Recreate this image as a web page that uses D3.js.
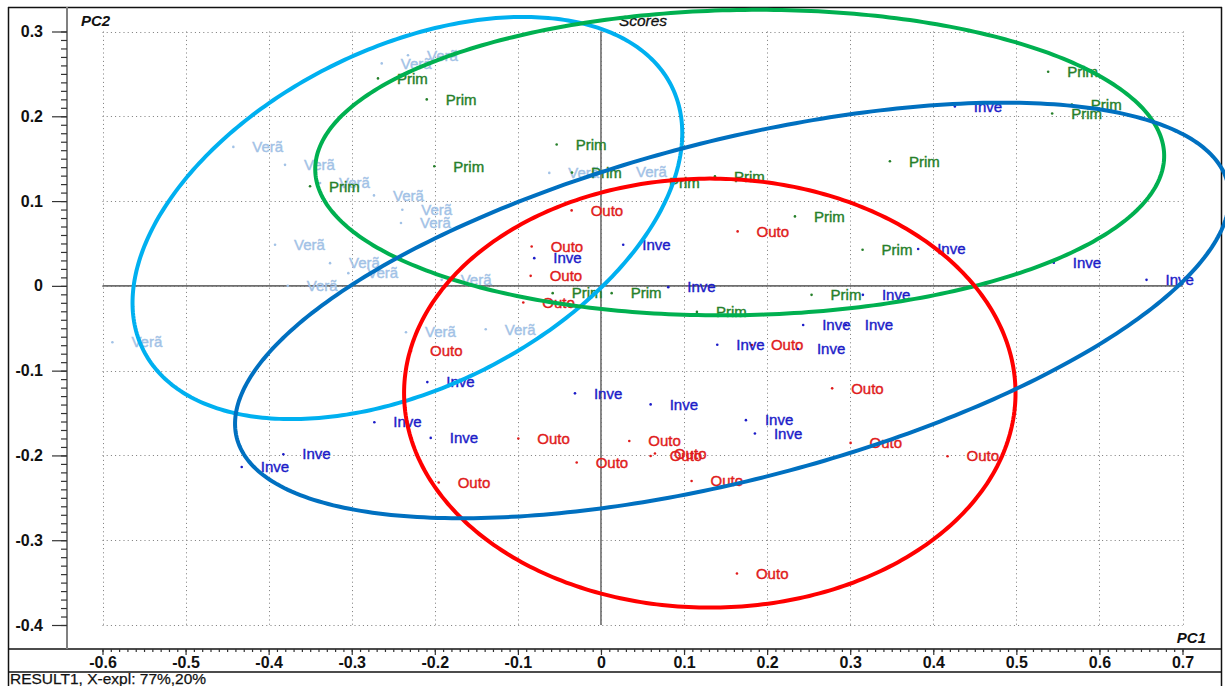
<!DOCTYPE html>
<html>
<head>
<meta charset="utf-8">
<script src="https://cdn.jsdelivr.net/npm/d3@7"></script>
<style>
  body { margin: 0; background: #fff; }
  svg { display: block; }
  text { font-family: "Liberation Sans", Arial, Helvetica, sans-serif; }
</style>
</head>
<body>
<svg id="chart" width="1225" height="686"></svg>
<script>
// PCA scores (PC1, PC2) per season
const veraoScores = [
  [-0.2639, 0.2624], [-0.2323, 0.2719], [-0.4425, 0.1639], [-0.3803, 0.1427],
  [-0.3381, 0.1214], [-0.2732, 0.1067], [-0.2391, 0.0898], [-0.2407, 0.0741],
  [-0.3923, 0.0485], [-0.3261, 0.0268], [-0.3041, 0.0150], [-0.3770, 0.0000],
  [-0.1917, 0.0071], [-0.5881, -0.0665], [-0.2347, -0.0547], [-0.1387, -0.0512],
  [-0.0622, 0.1332], [0.0193, 0.1348]
];
const primScores = [
  [-0.2684, 0.2447], [-0.2097, 0.2199], [-0.3502, 0.1174], [-0.2006, 0.1410],
  [-0.0533, 0.1667], [-0.0349, 0.1336], [0.0590, 0.1217], [0.1372, 0.1292],
  [0.2335, 0.0819], [-0.0581, -0.0086], [0.0129, -0.0086], [0.2535, -0.0106],
  [0.1155, -0.0307], [0.3149, 0.0426], [0.3478, 0.1469], [0.5383, 0.2526],
  [0.5668, 0.2139], [0.5431, 0.2033]
];
const outoScores = [
  [-0.0353, 0.0890], [0.1645, 0.0642], [-0.0834, 0.0465], [-0.0846, 0.0118],
  [-0.0935, -0.0197], [-0.2286, -0.0768], [0.1817, -0.0697], [0.2783, -0.1209],
  [-0.0995, -0.1800], [0.0341, -0.1829], [0.0598, -0.2006], [0.0650, -0.1978],
  [-0.0292, -0.2084], [0.1091, -0.2301], [-0.1953, -0.2320], [0.3005, -0.1852],
  [0.4172, -0.2009], [0.1637, -0.3392]
];
const inveScores = [
  [-0.0803, 0.0327], [0.0268, 0.0485], [0.0810, -0.0015], [0.4260, 0.2116],
  [0.3818, 0.0434], [0.5451, 0.0272], [0.6567, 0.0071], [0.3153, -0.0106],
  [0.2434, -0.0461], [0.2948, -0.0461], [0.2371, -0.0745], [0.1400, -0.0694],
  [-0.2090, -0.1135], [-0.2049, -0.1793], [-0.2728, -0.1608], [-0.3823, -0.1986],
  [-0.4324, -0.2136], [-0.0313, -0.1268], [0.0598, -0.1398], [0.1745, -0.1584],
  [0.1853, -0.1741]
];

// Group confidence ellipses: centre, semi-axes and rotation (degrees) in score units
const ellipseVerao = { cx: -0.2330, cy: 0.0800, rx: 0.3540, ry: 0.2010, angle: 25.6 };
const ellipsePrim  = { cx: 0.1670, cy: 0.1454, rx: 0.5110, ry: 0.1800, angle: 1.0 };
const ellipseOuto  = { cx: 0.1310, cy: -0.1265, rx: 0.3680, ry: 0.2530, angle: 0.0 };
const ellipseInve  = { cx: 0.1580, cy: -0.0290, rx: 0.6150, ry: 0.2000, angle: 14.1 };

const groupNames = ["Verã", "Prim", "Outo", "Inve"];

const xTicks = [-0.6, -0.5, -0.4, -0.3, -0.2, -0.1, 0, 0.1, 0.2, 0.3, 0.4, 0.5, 0.6, 0.7];
const yTicks = [0.3, 0.2, 0.1, 0, -0.1, -0.2, -0.3, -0.4];
const xMinor = d3.range(-60, 71).map(i => i / 100);
const yMinor = d3.range(-40, 31).map(i => i / 100);

const svg = d3.select("#chart");
const W = 1225, H = 686;
svg.append("rect").attr("width", W).attr("height", H).attr("fill", "#fff");

const x = d3.scaleLinear().domain([-0.6, 0.7]).range([102.5, 1182.5]);
const y = d3.scaleLinear().domain([-0.4, 0.3]).range([625, 31.5]);

const fmt = d => (d === 0 ? "0" : String(+d.toFixed(1)));

// dotted grid
const grid = svg.append("g").attr("stroke", "#7a7a7a").attr("stroke-width", 1)
  .attr("stroke-dasharray", "1,3.2");
grid.selectAll("line.gx").data(xTicks).join("line")
  .attr("x1", d => Math.round(x(d)) + 0.5).attr("x2", d => Math.round(x(d)) + 0.5)
  .attr("y1", y(0.3)).attr("y2", y(-0.4));
grid.selectAll("line.gy").data(yTicks).join("line")
  .attr("y1", d => Math.round(y(d)) + 0.5).attr("y2", d => Math.round(y(d)) + 0.5)
  .attr("x1", x(-0.6)).attr("x2", x(0.7));

// zero lines
svg.append("line").attr("x1", x(-0.6)).attr("x2", x(0.7))
  .attr("y1", y(0)).attr("y2", y(0)).attr("stroke", "#6e6e6e").attr("stroke-width", 1.6);
svg.append("line").attr("x1", x(0)).attr("x2", x(0))
  .attr("y1", y(0.3)).attr("y2", y(-0.4)).attr("stroke", "#6e6e6e").attr("stroke-width", 1.6);

// frame
const frame = svg.append("g").attr("stroke", "#111").attr("stroke-width", 1.5).attr("fill", "none");
frame.append("line").attr("x1", 8).attr("x2", 1222).attr("y1", 7.5).attr("y2", 7.5);
frame.append("line").attr("x1", 8.5).attr("x2", 8.5).attr("y1", 7).attr("y2", 686);
frame.append("line").attr("x1", 1221.5).attr("x2", 1221.5).attr("y1", 7).attr("y2", 686);
frame.append("line").attr("x1", 8).attr("x2", 1222).attr("y1", 649).attr("y2", 649);
frame.append("line").attr("x1", 8).attr("x2", 1222).attr("y1", 672).attr("y2", 672);

// y axis
const yAxisX = 67;
svg.append("line").attr("x1", yAxisX).attr("x2", yAxisX).attr("y1", 7).attr("y2", 649)
  .attr("stroke", "#808080").attr("stroke-width", 2);
const yMinorG = svg.append("g").attr("transform", `translate(${yAxisX},0)`)
  .call(d3.axisLeft(y).tickValues(yMinor).tickSize(6).tickFormat(""));
const yMajorG = svg.append("g").attr("transform", `translate(${yAxisX},0)`)
  .call(d3.axisLeft(y).tickValues(yTicks).tickSize(15).tickPadding(9).tickFormat(fmt));
[yMinorG, yMajorG].forEach(g => {
  g.select(".domain").remove();
  g.selectAll(".tick line").attr("stroke", "#333").attr("stroke-width", 1.2);
});
yMajorG.selectAll(".tick text").attr("fill", "#111").attr("font-size", 16)
  .attr("font-weight", "bold").attr("font-family", "Liberation Sans, Arial, sans-serif");

// x axis
const xMinorG = svg.append("g").attr("transform", "translate(0,649)")
  .call(d3.axisBottom(x).tickValues(xMinor).tickSize(3).tickFormat(""));
const xMajorG = svg.append("g").attr("transform", "translate(0,649)")
  .call(d3.axisBottom(x).tickValues(xTicks).tickSize(6).tickPadding(2).tickFormat(fmt));
[xMinorG, xMajorG].forEach(g => {
  g.select(".domain").remove();
  g.selectAll(".tick line").attr("stroke", "#333").attr("stroke-width", 1.2);
});
xMajorG.selectAll(".tick text").attr("fill", "#111").attr("font-size", 16)
  .attr("font-weight", "bold").attr("font-family", "Liberation Sans, Arial, sans-serif");

// titles
svg.append("text").attr("x", 81).attr("y", 26).text("PC2")
  .attr("font-size", 15).attr("font-weight", "bold").attr("font-style", "italic").attr("fill", "#111");
svg.append("text").attr("x", 643).attr("y", 26).attr("text-anchor", "middle").text("Scores")
  .attr("font-size", 15.5).attr("font-style", "italic").attr("fill", "#111")
  .attr("stroke", "#111").attr("stroke-width", 0.3);
svg.append("text").attr("x", 1206).attr("y", 643).attr("text-anchor", "end").text("PC1")
  .attr("font-size", 15).attr("font-weight", "bold").attr("font-style", "italic").attr("fill", "#111");
svg.append("text").attr("x", 10).attr("y", 684).text("RESULT1, X-expl: 77%,20%")
  .attr("font-size", 15.5).attr("fill", "#111").attr("stroke", "#111").attr("stroke-width", 0.25);

// score points with labels
const groups = [
  { name: groupNames[0], pts: veraoScores, color: "#a2c2e6" },
  { name: groupNames[1], pts: primScores, color: "#26802a" },
  { name: groupNames[2], pts: outoScores, color: "#e01c1c" },
  { name: groupNames[3], pts: inveScores, color: "#1c1cc8" }
];
groups.forEach(g => {
  const layer = svg.append("g");
  layer.selectAll("circle").data(g.pts).join("circle")
    .attr("cx", d => x(d[0])).attr("cy", d => y(d[1])).attr("r", 1.3).attr("fill", g.color);
  layer.selectAll("text").data(g.pts).join("text")
    .attr("x", d => x(d[0]) + 19).attr("y", d => y(d[1])).attr("dy", "0.35em")
    .attr("font-size", 15).attr("fill", g.color)
    .attr("stroke", g.color).attr("stroke-width", 0.4)
    .text(g.name);
});

// confidence ellipses
function ellipsePoints(e) {
  const a = e.angle * Math.PI / 180;
  return d3.range(0, 360, 1).map(deg => {
    const t = deg * Math.PI / 180;
    const dx = e.rx * Math.cos(t), dy = e.ry * Math.sin(t);
    return [e.cx + dx * Math.cos(a) - dy * Math.sin(a), e.cy + dx * Math.sin(a) + dy * Math.cos(a)];
  });
}
const ellLine = d3.line().x(d => x(d[0])).y(d => y(d[1])).curve(d3.curveLinearClosed);
[
  [ellipseVerao, "#00b0f0"],
  [ellipsePrim, "#00b050"],
  [ellipseOuto, "#ff0000"],
  [ellipseInve, "#0070c0"]
].forEach(([e, c]) => {
  svg.append("path").attr("d", ellLine(ellipsePoints(e)))
    .attr("fill", "none").attr("stroke", c).attr("stroke-width", 4);
});
</script>
</body>
</html>
